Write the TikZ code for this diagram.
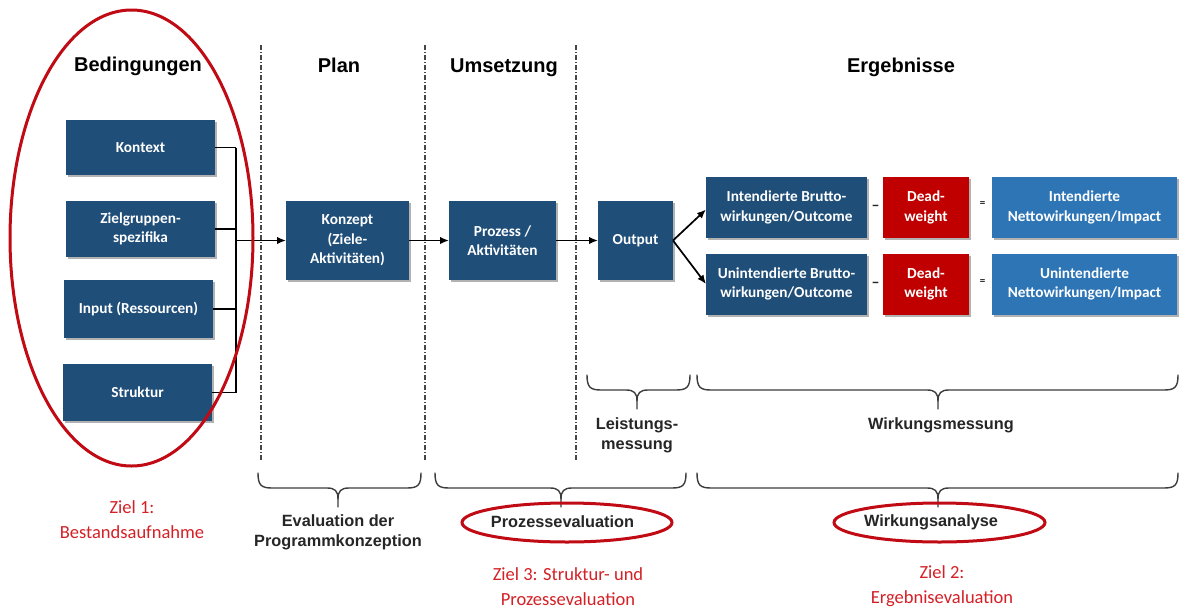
\documentclass[tikz,border=0pt]{standalone}
\usepackage{fontspec}
\setmainfont{Carlito}
\newfontfamily\arialfont{Liberation Sans}
\usetikzlibrary{arrows.meta,shadows}
\definecolor{dblue}{RGB}{31,78,121}
\definecolor{lblue}{RGB}{46,117,182}
\definecolor{dred}{RGB}{192,0,0}
\definecolor{ringred}{RGB}{192,10,20}
\definecolor{zieltext}{RGB}{212,32,38}
\definecolor{bracegray}{RGB}{60,60,60}
\definecolor{dashgray}{RGB}{70,70,70}
\tikzset{
  boxbase/.style={draw=none, text=white, inner sep=0pt, outer sep=0pt, align=center,
    font=\bfseries\fontsize{15.3}{19.5}\selectfont,
    drop shadow={shadow xshift=1.5pt, shadow yshift=-2pt, opacity=0.3, fill=black}},
  dbox/.style={boxbase, fill=dblue},
  rbox/.style={boxbase, fill=dred},
  lbox/.style={boxbase, fill=lblue},
  header/.style={font=\arialfont\bfseries\fontsize{20}{24}\selectfont, text=black, inner sep=0pt, anchor=base},
  blabel/.style={font=\arialfont\bfseries\fontsize{16.3}{20}\selectfont, text=black!85, align=center, inner sep=0pt},
  ziel/.style={font=\fontsize{18.5}{25}\selectfont, text=zieltext, align=center, inner sep=0pt},
  conn/.style={draw=black, line width=1.7pt},
  arr/.style={conn, -{Latex[length=9pt,width=7.5pt]}},
  phase/.style={draw=dashgray, line width=1.1pt, dash pattern=on 5pt off 2pt on 1pt off 2pt},
  bracestyle/.style={draw=bracegray, line width=1.4pt, line cap=round},
  ring/.style={draw=ringred, line width=3pt},
  opsign/.style={font=\bfseries\fontsize{16}{16}\selectfont, text=black!85, inner sep=0pt}
}
\newcommand\drawbrace[4]{%
  \draw[bracestyle] (#1,#3) .. controls (#1,#3+12) and (#1+3,#3+15) .. (#1+14,#3+15)
     -- (#4-11,#3+15) .. controls (#4-3,#3+15) and (#4,#3+18) .. (#4,#3+26) -- (#4,#3+34);
  \draw[bracestyle] (#2,#3) .. controls (#2,#3+12) and (#2-3,#3+15) .. (#2-14,#3+15)
     -- (#4+11,#3+15) .. controls (#4+3,#3+15) and (#4,#3+18) .. (#4,#3+26);
}
\begin{document}
\begin{tikzpicture}[x=1pt,y=-1pt]
\fill[white] (0,0) rectangle (1181,611);
\useasboundingbox (0,0) rectangle (1181,611);

% phase separators
\draw[phase] (261,45) -- (261,460);
\draw[phase] (425,45) -- (425,460);
\draw[phase] (576,45) -- (576,460);

% headers
\node[header] (hbed) at (138,71) {Bedingungen};
\node[header] (hplan) at (339,72) {Plan};
\node[header] (hums) at (504,72) {Umsetzung};
\node[header] (herg) at (901,72) {Ergebnisse};

% left boxes
\node[dbox, minimum width=149pt, minimum height=55pt] (kon) at (140.5,147.5) {Kontext};
\node[dbox, minimum width=149pt, minimum height=56pt] (zg) at (140.5,229) {Zielgruppen-\\spezifika};
\node[dbox, minimum width=149pt, minimum height=58pt] (inp) at (138.5,309) {Input (Ressourcen)};
\node[dbox, minimum width=149pt, minimum height=57pt] (str) at (137.5,392.5) {Struktur};

% middle boxes
\node[dbox, minimum width=123pt, minimum height=79pt] (konz) at (347.5,240.5) {Konzept\\(Ziele-\\Aktivitäten)};
\node[dbox, minimum width=107pt, minimum height=79pt] (proz) at (502.5,240.5) {Prozess /\\Aktivitäten};
\node[dbox, minimum width=75pt, minimum height=79pt] (out) at (635.5,240.5) {Output};

% result boxes
\node[dbox, minimum width=161pt, minimum height=61pt] (ib) at (786.5,207.5) {Intendierte Brutto-\\wirkungen/Outcome};
\node[dbox, minimum width=161pt, minimum height=61pt] (ub) at (786.5,284) {Unintendierte Brutto-\\wirkungen/Outcome};
\node[rbox, minimum width=86pt, minimum height=61pt] (d1) at (926,207.5) {Dead-\\weight};
\node[rbox, minimum width=86pt, minimum height=61pt] (d2) at (926,284) {Dead-\\weight};
\node[lbox, minimum width=185pt, minimum height=61pt] (n1) at (1084.5,207.5) {Intendierte\\Nettowirkungen/Impact};
\node[lbox, minimum width=185pt, minimum height=61pt] (n2) at (1084.5,284) {Unintendierte\\Nettowirkungen/Impact};

\node[opsign] (m1) at (875.5,208) {–};
\node[opsign] (m2) at (875.5,285) {–};
\node[opsign, font=\bfseries\fontsize{11}{11}\selectfont] (e1) at (982.5,204) {=};
\node[opsign, font=\bfseries\fontsize{11}{11}\selectfont] (e2) at (982.5,282) {=};

% connectors
\coordinate (bus) at (236,240.5);
\draw[conn] (kon.east) -- (kon.east -| bus);
\draw[conn] (zg.east) -- (zg.east -| bus);
\draw[conn] (inp.east) -- (inp.east -| bus);
\draw[conn] (str.east) -- (str.east -| bus);
\draw[conn] (kon.east -| bus) -- (str.east -| bus);
\draw[arr] (bus) -- (konz.west);
\draw[arr] (konz.east) -- (proz.west);
\draw[arr] (proz.east) -- (out.west);
\draw[arr] (out.east) -- ([yshift=-2pt]ib.west);
\draw[arr] (out.east) -- (ub.west);

% big ring around Bedingungen
\draw[ring] (131.5,238) ellipse [x radius=121.5, y radius=228];

% upper braces
\drawbrace{587}{690}{375}{637}
\drawbrace{697}{1178}{375}{938}
\node[blabel] (leist) at (637,435) {Leistungs-\\messung};
\node[blabel] (wmess) at (941,425) {Wirkungsmessung};

% lower braces
\drawbrace{258}{421}{473}{338}
\drawbrace{435}{686}{473}{561}
\drawbrace{697}{1178}{473}{938}
\node[blabel] (evpk) at (338,532) {Evaluation der\\Programmkonzeption};
\node[blabel] (pev) at (562.5,522) {Prozessevaluation};
\node[blabel] (wan) at (931,522) {Wirkungsanalyse};
\draw[ring] (567,522.5) ellipse [x radius=105, y radius=19.5];
\draw[ring] (939.5,522.5) ellipse [x radius=105.5, y radius=19.5];

% goals
\node[ziel] (z1) at (132,519.5) {Ziel 1:\\Bestandsaufnahme};
\node[ziel] (z3) at (568,587) {Ziel 3: Struktur- und\\Prozessevaluation};
\node[ziel] (z2) at (942,586) {Ziel 2:\\Ergebnisevaluation};
\end{tikzpicture}
\end{document}
